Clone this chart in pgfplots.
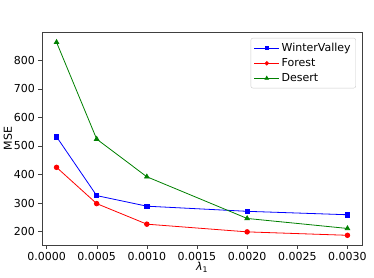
\documentclass[border=0pt]{standalone}
\usepackage{fontspec}
\setmainfont{DejaVu Sans}
\usepackage{pgfplots}
\pgfplotsset{compat=1.18}
\definecolor{mplgreen}{rgb}{0,0.5,0}
\newcommand{\ff}{\fontsize{11pt}{13pt}\selectfont}
\begin{document}
\begin{tikzpicture}
\path[use as bounding box] (-42pt,-32pt) rectangle (332pt,245pt);
\begin{axis}[
  at={(0pt,0pt)}, anchor=south west,
  scale only axis, width=320pt, height=213pt,
  xmin=-0.000045, xmax=0.003145,
  ymin=153, ymax=899,
  xtick={0,0.0005,0.001,0.0015,0.002,0.0025,0.003},
  ytick={200,300,400,500,600,700,800},
  scaled x ticks=false,
  xticklabel style={/pgf/number format/.cd, fixed, fixed zerofill, precision=4},
  /pgf/number format/assume math mode=true,
  tick label style={font=\ff},
  label style={font=\ff},
  tick align=outside, tick pos=left,
  major tick length=3.5pt,
  axis line style={black!75},
  tick style={black!75},
  xlabel={{\itshape λ}\textsubscript{1}},
  ylabel={MSE},
  xlabel style={yshift=5pt},
  ylabel style={yshift=-5pt},
  legend style={at={(rel axis cs:0.981,0.972)}, anchor=north east,
    draw=black!20, rounded corners=2pt, inner xsep=3pt, inner ysep=3pt,
    row sep=1.5pt, font=\ff,
    /tikz/every even column/.append style={column sep=4pt}},
  legend image code/.code={\draw[mark repeat=2,mark phase=2,#1] plot coordinates {(0pt,0pt) (12.5pt,0pt) (25pt,0pt)};},
  legend image post style={mark options={scale=0.75}},
  legend cell align=left,
  every axis plot/.append style={line width=0.8pt},
]
\addplot[blue, mark=square*, mark size=2.2pt] coordinates {
(0.0001,532) (0.0005,326) (0.001,289) (0.002,271) (0.003,259)};
\addlegendentry{WinterValley}
\addplot[red, mark=*, mark size=2.3pt] coordinates {
(0.0001,425) (0.0005,298) (0.001,226) (0.002,199) (0.003,187)};
\addlegendentry{Forest}
\addplot[mplgreen, mark=triangle*, mark size=2.6pt] coordinates {
(0.0001,863) (0.0005,524) (0.001,392) (0.002,246) (0.003,211)};
\addlegendentry{Desert}
\end{axis}
\end{tikzpicture}
\end{document}
